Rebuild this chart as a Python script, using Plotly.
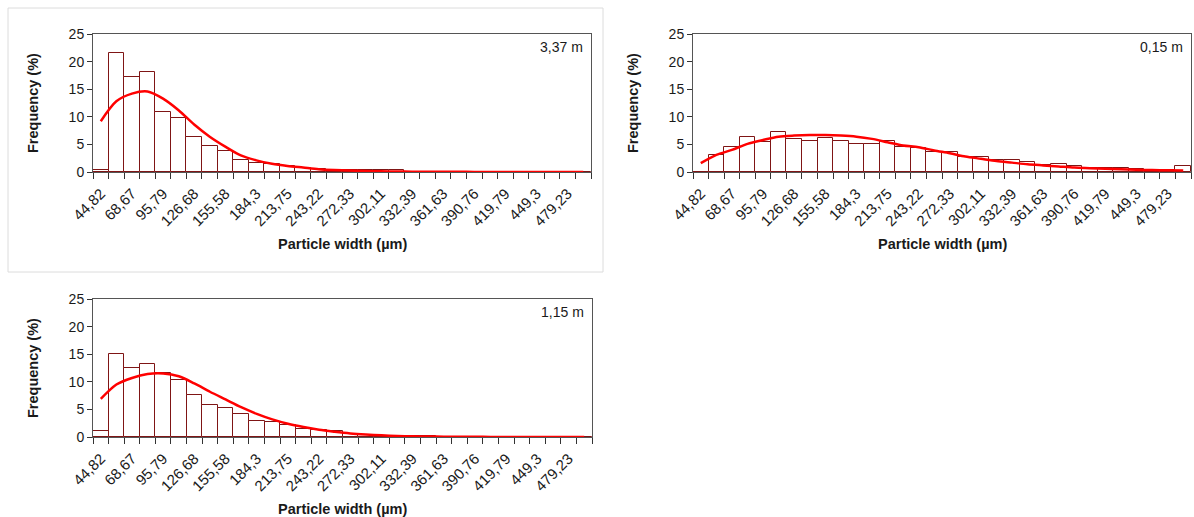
import plotly.graph_objects as go

# ---- data ----
bin_index = list(range(32))
tick_positions = list(range(0, 32, 2))
tick_labels = ["44,82", "68,67", "95,79", "126,68", "155,58", "184,3", "213,75", "243,22",
               "272,33", "302,11", "332,39", "361,63", "390,76", "419,79", "449,3", "479,23"]

freq_337 = [0.3, 21.5, 17.2, 18.2, 10.8, 9.8, 6.3, 4.8, 3.8, 2.2, 1.6, 1.4, 1.0, 0.7, 0.5, 0.45,
            0.4, 0.3, 0.3, 0.3, 0.05, 0.05, 0.05, 0.05, 0.05, 0.05, 0.05, 0.05, 0.05, 0.05, 0.05, 0.05]
fit_337 = [9.2, 12.8, 14.2, 14.6, 13.3, 11.2, 8.6, 6.4, 4.6, 3.0, 2.1, 1.5, 1.1, 0.8, 0.5, 0.35,
           0.25, 0.18, 0.12, 0.08, 0.06, 0.05, 0.04, 0.03, 0.02, 0.02, 0.01, 0.01, 0.01, 0.01, 0.0, 0.0]

freq_015 = [0.0, 3.1, 4.5, 6.3, 5.4, 7.2, 6.0, 5.6, 6.1, 5.7, 5.1, 5.1, 5.6, 4.6, 4.3, 3.7,
            3.6, 2.8, 2.8, 2.1, 2.1, 1.9, 1.3, 1.4, 1.1, 0.8, 0.7, 0.7, 0.6, 0.4, 0.4, 1.0]
fit_015 = [1.6, 3.1, 4.0, 5.1, 5.8, 6.4, 6.6, 6.7, 6.7, 6.6, 6.4, 6.0, 5.4, 4.8, 4.5, 3.9,
           3.4, 2.8, 2.4, 2.0, 1.7, 1.4, 1.2, 1.0, 0.8, 0.7, 0.6, 0.5, 0.4, 0.35, 0.3, 0.25]

freq_115 = [1.1, 15.1, 12.5, 13.2, 11.6, 10.4, 7.7, 5.8, 5.2, 4.1, 2.9, 2.7, 2.1, 1.5, 1.3, 1.0,
            0.6, 0.4, 0.25, 0.1, 0.1, 0.1, 0.05, 0.05, 0.05, 0.05, 0.05, 0.05, 0.05, 0.05, 0.05, 0.05]
fit_115 = [6.9, 9.5, 10.7, 11.4, 11.5, 11.0, 9.7, 8.2, 6.8, 5.4, 4.2, 3.2, 2.4, 1.8, 1.3, 0.95,
           0.65, 0.45, 0.3, 0.2, 0.12, 0.08, 0.06, 0.04, 0.03, 0.02, 0.01, 0.01, 0.01, 0.0, 0.0, 0.0]

depth_labels = ["3,37 m", "0,15 m", "1,15 m"]

# ---- layout geometry (pixels) ----
W, H = 1194, 517
FONT = "Liberation Sans, Arial, sans-serif"
TXT = "#1a1a1a"
panels = [
    # (x0, x1, ytop, ybottom)
    (93, 591, 34, 172),
    (693, 1191, 34, 172),
    (93, 592, 299, 437),
]
series = [(freq_337, fit_337), (freq_015, fit_015), (freq_115, fit_115)]

fig = go.Figure()
layout = dict(
    width=W, height=H, margin=dict(l=0, r=0, t=0, b=0, autoexpand=False),
    paper_bgcolor="white", plot_bgcolor="white",
    showlegend=False, bargap=0, barmode="overlay",
    font=dict(family=FONT, size=14, color=TXT),
)
annotations = []
shapes = []

for i, ((x0, x1, yt, yb), (freq, fit)) in enumerate(zip(panels, series)):
    n = "" if i == 0 else str(i + 1)
    xa, ya = "x" + n, "y" + n
    fig.add_trace(go.Bar(
        x=bin_index, y=freq, xaxis=xa, yaxis=ya, width=1,
        marker=dict(color="white", line=dict(color="#7f1515", width=1)),
    ))
    fig.add_trace(go.Scatter(
        x=bin_index, y=fit, xaxis=xa, yaxis=ya, mode="lines",
        line=dict(color="#ff0000", width=2.5, shape="spline", smoothing=0.8),
    ))
    layout["xaxis" + n] = dict(
        domain=[x0 / W, x1 / W], anchor=ya, range=[-0.5, 31.5], automargin=False,
        tickmode="array", tickvals=tick_positions, ticktext=tick_labels,
        tickangle=-45, ticks="", showgrid=False, zeroline=False,
        showline=True, linecolor="#555555", linewidth=1, mirror=True,
        tickfont=dict(family=FONT, size=15, color=TXT), ticklabelstandoff=6,
        minor=dict(tickmode="array", tickvals=[k - 0.5 for k in range(33)],
                   ticks="outside", ticklen=6, tickcolor="#333333", tickwidth=1, showgrid=False),
        fixedrange=True,
    )
    layout["yaxis" + n] = dict(
        domain=[1 - yb / H, 1 - yt / H], anchor=xa, range=[0, 25], dtick=5, automargin=False,
        ticks="outside", ticklen=5, tickcolor="#333333", showgrid=False, zeroline=False,
        showline=True, linecolor="#555555", linewidth=1, mirror=True,
        tickfont=dict(family=FONT, size=14, color=TXT),
        fixedrange=True,
    )
    # depth label
    annotations.append(dict(
        x=(x1 - 6) / W, y=1 - (yt + 13) / H, xref="paper", yref="paper",
        text=depth_labels[i], showarrow=False, xanchor="right", yanchor="middle",
        font=dict(family=FONT, size=14, color=TXT),
    ))
    # axis titles
    annotations.append(dict(
        x=((x0 + x1) / 2) / W, y=1 - (yb + 72) / H, xref="paper", yref="paper",
        text="<b>Particle width (µm)</b>", showarrow=False, xanchor="center", yanchor="middle",
        font=dict(family=FONT, size=14.5, color=TXT),
    ))
    annotations.append(dict(
        x=(x0 - 60) / W, y=1 - ((yt + yb) / 2) / H, xref="paper", yref="paper",
        text="<b>Frequency (%)</b>", showarrow=False, textangle=-90,
        xanchor="center", yanchor="middle",
        font=dict(family=FONT, size=14.5, color=TXT),
    ))

# light frame around the first chart area
shapes.append(dict(type="rect", xref="paper", yref="paper",
                   x0=8 / W, x1=603 / W, y0=1 - 272 / H, y1=1 - 8 / H,
                   line=dict(color="#dcdcdc", width=1), layer="below"))

layout["annotations"] = annotations
layout["shapes"] = shapes
fig.update_layout(**layout)
fig.write_html("out.html")
